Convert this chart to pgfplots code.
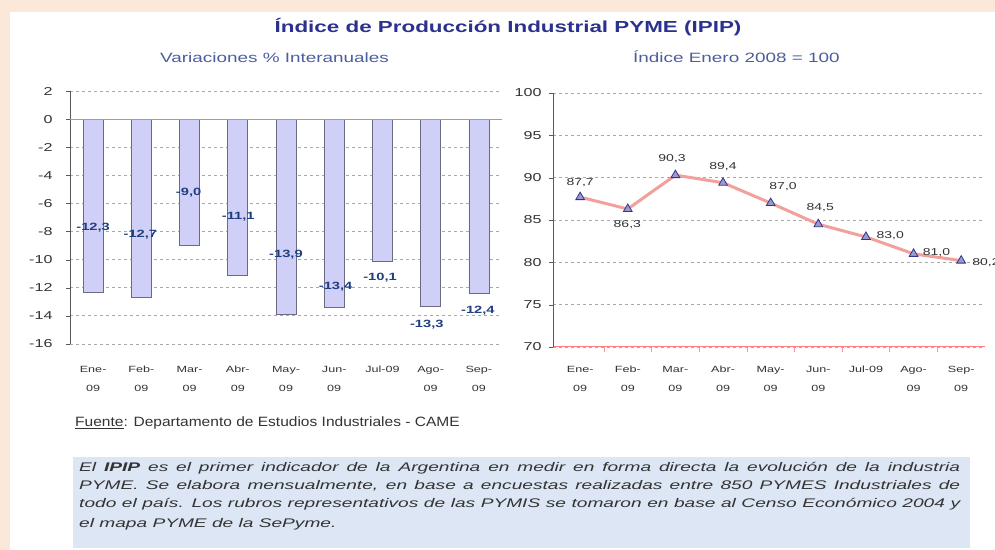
\documentclass[border=0pt]{standalone}
\usepackage{fontspec}
\setmainfont{Liberation Sans}[FakeStretch=1.4, ItalicFeatures={FakeStretch=1.4}, BoldFeatures={FakeStretch=1.4}, BoldItalicFeatures={FakeStretch=1.4}]
\newfontfamily\fuentefont{Liberation Sans}[FakeStretch=1.15]
\newfontfamily\parafont{Liberation Sans}[FakeStretch=1.53, ItalicFeatures={FakeStretch=1.53}, BoldItalicFeatures={FakeStretch=1.53}]
\usepackage{pgfplots}
\usepackage{pgfplotstable}
\pgfplotsset{compat=1.18}
\definecolor{peach}{HTML}{FBE8D8}
\definecolor{titleblue}{HTML}{2B318F}
\definecolor{subblue}{HTML}{4D5E9E}
\definecolor{barfill}{HTML}{CFCFF8}
\definecolor{baredge}{HTML}{6A6A80}
\definecolor{lblblue}{HTML}{1F3F7F}
\definecolor{linered}{HTML}{F2A09C}
\definecolor{markfill}{HTML}{9A9ACC}
\definecolor{markedge}{HTML}{33338F}
\definecolor{boxblue}{HTML}{DCE6F4}
\definecolor{txtgray}{HTML}{333333}
\definecolor{gridgray}{HTML}{A8A8A8}

\pgfplotstableread{
x y
0 -12.3
1 -12.7
2 -9.0
3 -11.1
4 -13.9
5 -13.4
6 -10.1
7 -13.3
8 -12.4
}\varbars
\pgfplotstableread{
x y label
0 -7.75 {-12,3}
0.98 -8.25 {-12,7}
1.98 -5.26 {-9,0}
3.01 -6.97 {-11,1}
4.0 -9.67 {-13,9}
5.03 -11.9 {-13,4}
5.95 -11.3 {-10,1}
6.92 -14.65 {-13,3}
7.98 -13.66 {-12,4}
}\varlabels
\pgfplotstableread{
x y
0 87.7
1 86.3
2 90.3
3 89.4
4 87.0
5 84.5
6 83.0
7 81.0
8 80.2
}\indline
\pgfplotstableread{
x y label
0 89.4 {87,7}
0.99 84.5 {86,3}
1.93 92.3 {90,3}
3.0 91.3 {89,4}
4.26 88.9 {87,0}
5.04 86.5 {84,5}
6.51 83.1 {83,0}
7.48 81.1 {81,0}
8.52 80.0 {80,2}
}\indlabels

\pgfplotsset{
  common/.style={
    scale only axis,
    width=432bp,
    height=253bp,
    anchor=south west,
    clip=false,
    /pgf/number format/assume math mode=true,
    xtick={0,...,8},
    xticklabels={{\strut Ene-\\09},{\strut Feb-\\09},{\strut Mar-\\09},{\strut Abr-\\09},{\strut May-\\09},{\strut Jun-\\09},{\strut Jul-09},{\strut Ago-\\09},{\strut Sep-\\09}},
    xticklabel style={align=center, font=\fontsize{9bp}{19bp}\selectfont, text=txtgray},
    yticklabel style={font=\fontsize{11.5bp}{13bp}\selectfont, text=txtgray},
    ymajorgrids,
    grid style={gridgray, dash pattern=on 3bp off 3bp, line width=0.8bp},
    axis y line*=left,
    axis x line*=bottom,
    y axis line style={draw=black!65, line width=1bp, -},
    x axis line style={-},
    xtick style={draw=none},
    ytick style={draw=black!65},
    tick align=outside,
    major tick length=4bp,
  }
}

\begin{document}
\begin{tikzpicture}
\fill[peach] (0,0) rectangle (995bp,550bp);
\fill[white] (10bp,0) rectangle (995bp,538bp);

% titles
\node[anchor=base, text=titleblue, font=\fontsize{16bp}{18bp}\selectfont\bfseries] at (508bp,517bp) {Índice de Producción Industrial PYME (IPIP)};
\node[anchor=base west, text=subblue, font=\fontsize{13.5bp}{15bp}\selectfont, inner sep=0] at (160bp,487bp) {Variaciones \% Interanuales};
\node[anchor=base west, text=subblue, font=\fontsize{13.5bp}{15bp}\selectfont, inner sep=0] at (633bp,487bp) {Índice Enero 2008 = 100};

% left chart
\begin{axis}[common,
  at={(70bp,206bp)},
  xmin=-0.48, xmax=8.48,
  ymin=-16, ymax=2,
  ytick={-16,-14,...,2},
  x axis line style={draw=none},
  xticklabel style={yshift=-7.5bp},
  yticklabel style={xshift=-10bp},
]
\addplot[ybar, bar width=20bp, fill=barfill, draw=baredge, line width=0.6bp] table[x=x,y=y] {\varbars};
\addplot[draw=red!55, line width=1bp, no markers, forget plot] coordinates {(-0.48,0) (8.48,0)};
\addplot[draw=none, no markers, nodes near coords, point meta=explicit symbolic,
  every node near coord/.style={anchor=center, inner sep=0, text=lblblue, font=\fontsize{10.5bp}{12bp}\selectfont\bfseries}]
  table[x=x,y=y,meta=label] {\varlabels};
\end{axis}

% right chart
\begin{axis}[common,
  at={(553bp,203bp)},
  height=254bp,
  xmin=-0.57, xmax=8.5,
  ymin=70, ymax=100,
  ytick={70,75,...,100},
  x axis line style={draw=red!50, line width=1bp},
  xticklabel style={yshift=-4.5bp},
  yticklabel style={xshift=-4bp},
  extra x ticks={0.5,1.5,...,7.5},
  extra x tick labels={},
  extra x tick style={xtick style={draw=red!40, line width=0.6bp}, major tick length=5bp, grid=none},
]
\addplot[draw=linered, line width=3bp, mark=triangle*, mark size=5bp,
  mark options={fill=markfill, draw=markedge, line width=0.8bp}] table[x=x,y=y] {\indline};
\addplot[draw=none, no markers, nodes near coords, point meta=explicit symbolic,
  every node near coord/.style={anchor=center, inner sep=0, text=txtgray, font=\fontsize{10bp}{12bp}\selectfont}]
  table[x=x,y=y,meta=label] {\indlabels};
\end{axis}

% source
\node[anchor=base west, inner sep=0, text=txtgray, font=\fontsize{13.5bp}{15bp}\fuentefont] at (75bp,123bp) {\underline{Fuente}: Departamento de Estudios Industriales - CAME};

% description box
\fill[boxblue] (73bp,2bp) rectangle (970bp,93bp);
\begin{scope}[every node/.style={anchor=base west, inner sep=0, text=txtgray, font=\fontsize{12.5bp}{14bp}\parafont\itshape}]
\node at (79bp,78bp) {\makebox[881bp][s]{El \textbf{IPIP} es el primer indicador de la Argentina en medir en forma directa la evolución de la industria}};
\node at (79bp,60bp) {\makebox[881bp][s]{PYME. Se elabora mensualmente, en base a encuestas realizadas entre 850 PYMES Industriales de}};
\node at (79bp,42bp) {\makebox[881bp][s]{todo el país. Los rubros representativos de las PYMIS se tomaron en base al Censo Económico 2004 y}};
\node at (79bp,23bp) {el mapa PYME de la SePyme.};
\end{scope}

\pgfresetboundingbox
\useasboundingbox (0,0) rectangle (995bp,550bp);
\end{tikzpicture}
\end{document}
